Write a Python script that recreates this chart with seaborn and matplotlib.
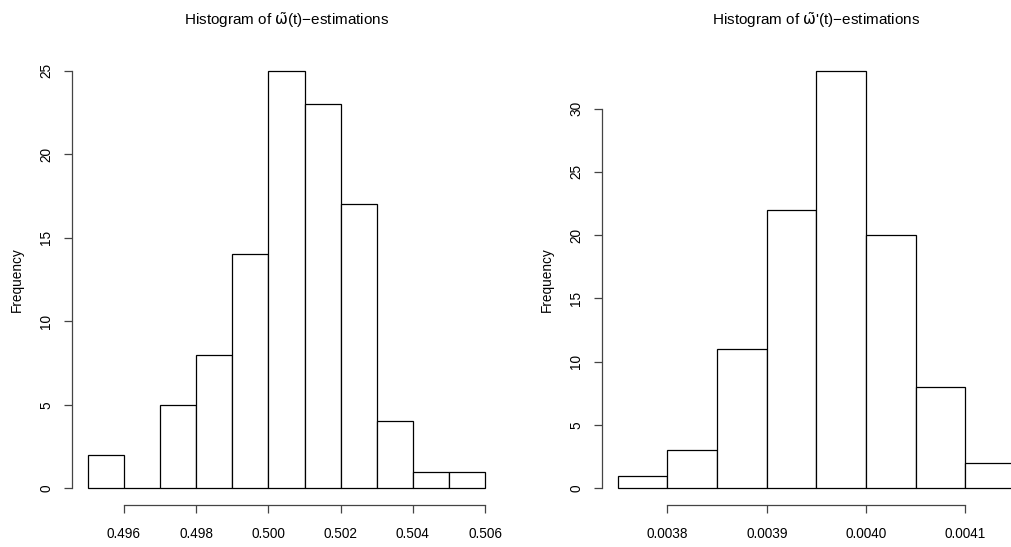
import numpy as np
import pandas as pd
import matplotlib
matplotlib.use("Agg")
import matplotlib.pyplot as plt
import seaborn as sns

# bin edges and counts
left_edges = [0.495, 0.496, 0.497, 0.498, 0.499, 0.500, 0.501, 0.502, 0.503, 0.504, 0.505, 0.506]
left_counts = [2, 0, 5, 8, 14, 25, 23, 17, 4, 1, 1]
left_xticks = [0.496, 0.498, 0.500, 0.502, 0.504, 0.506]
left_yticks = [0, 5, 10, 15, 20, 25]

right_edges = [0.00375, 0.00380, 0.00385, 0.00390, 0.00395, 0.00400, 0.00405, 0.00410, 0.00415]
right_counts = [1, 3, 11, 22, 33, 20, 8, 2]
right_xticks = [0.0038, 0.0039, 0.0040, 0.0041]
right_yticks = [0, 5, 10, 15, 20, 25, 30]

sns.set_style("ticks")
plt.rcParams['font.family'] = ['Liberation Sans', 'DejaVu Sans']
plt.rcParams['mathtext.fontset'] = 'dejavusans'
plt.rcParams['text.color'] = 'black'
plt.rcParams['axes.labelcolor'] = 'black'

fig = plt.figure(figsize=(10.11, 5.47), dpi=100)
ax1 = fig.add_axes([0.0712, 0.0768, 0.4243, 0.8245])
ax2 = fig.add_axes([0.5954, 0.0768, 0.4243, 0.8245])


def r_hist(ax, edges, counts, xticks, yticks, fmt, title):
    e = np.array(edges)
    df = pd.DataFrame({"mid": (e[:-1] + e[1:]) / 2, "n": counts})
    sns.histplot(data=df, x="mid", weights="n", bins=edges, ax=ax,
                 color="white", edgecolor="black", linewidth=0.9, alpha=1)
    span = e[-1] - e[0]
    ymax = max(counts)
    ax.set_xlim(e[0] - 0.04 * span, e[-1] + 0.04 * span)
    ax.set_ylim(-0.04 * ymax, ymax * 1.04)
    for s in ["top", "right"]:
        ax.spines[s].set_visible(False)
    ax.spines["left"].set_bounds(yticks[0], yticks[-1])
    ax.spines["bottom"].set_bounds(xticks[0], xticks[-1])
    for s in ["left", "bottom"]:
        ax.spines[s].set_color("#444444")
        ax.spines[s].set_linewidth(0.9)
    ax.set_xticks(xticks)
    ax.set_xticklabels([fmt.format(v) for v in xticks])
    ax.set_yticks(yticks)
    ax.set_yticklabels([str(v) for v in yticks], rotation=90, va="center")
    ax.tick_params(axis="both", length=5.5, width=0.9, color="#444444",
                   labelcolor="black", labelsize=9.8)
    ax.tick_params(axis="x", pad=10)
    ax.tick_params(axis="y", pad=8)
    ax.set_xlabel("")
    ax.set_ylabel("Frequency", fontsize=9.8)
    ax.yaxis.set_label_coords(-0.112, 0.5)
    ax.set_title(title, fontsize=11, pad=21)


r_hist(ax1, left_edges, left_counts, left_xticks, left_yticks, "{:.3f}",
       "Histogram of $\\mathrm{\\tilde{\\omega}}$(t)\u2212estimations")
r_hist(ax2, right_edges, right_counts, right_xticks, right_yticks, "{:.4f}",
       "Histogram of $\\mathrm{\\tilde{\\omega}}$'(t)\u2212estimations")

fig.savefig("out.png", dpi=100)
